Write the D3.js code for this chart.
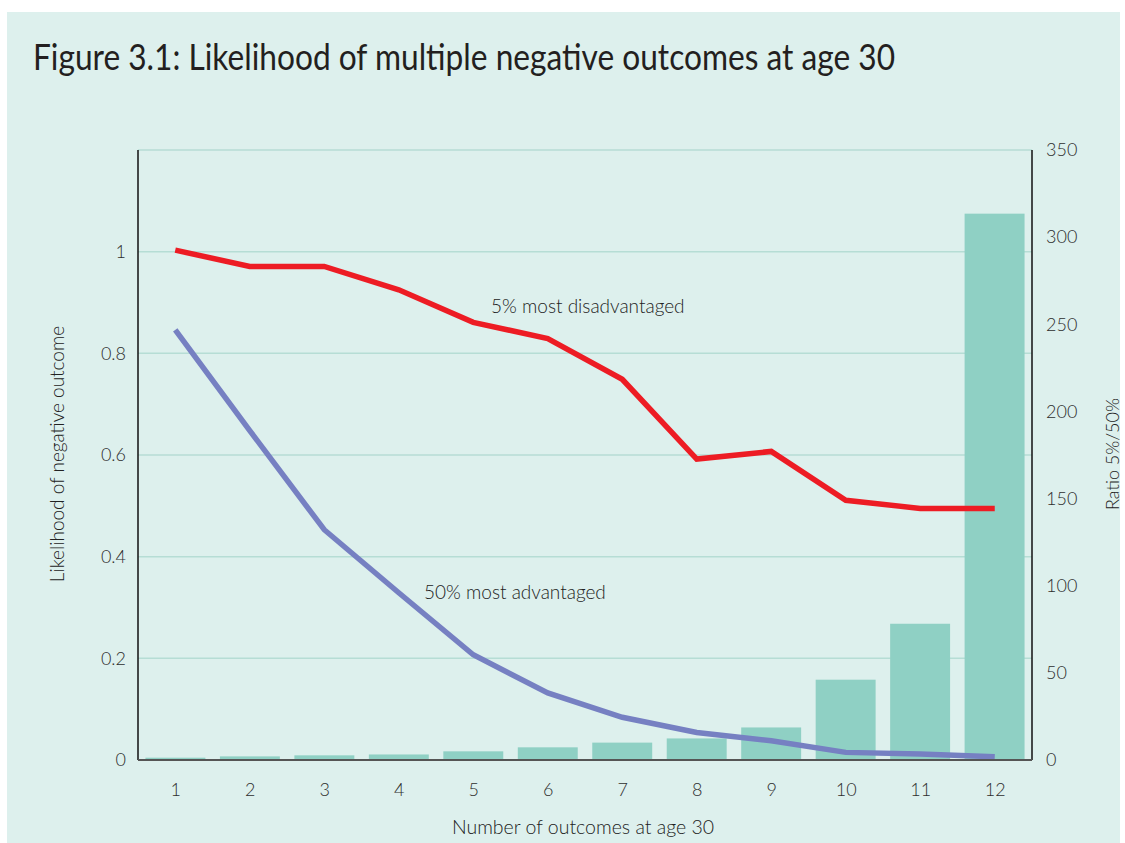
<!DOCTYPE html>
<html>
<head>
<meta charset="utf-8">
<script src="https://cdn.jsdelivr.net/npm/d3@7"></script>
<style>
  html, body { margin: 0; padding: 0; background: #ffffff; }
  svg { display: block; }
  text { font-family: Lato, "Open Sans", sans-serif; }
</style>
</head>
<body>
<svg id="chart" width="1125" height="843"></svg>
<script>
const categories = ["1","2","3","4","5","6","7","8","9","10","11","12"];
const ratioValues = [0.75, 1.5, 2.1, 2.6, 4.4, 6.7, 9.4, 11.8, 18.1, 45.5, 77.6, 312.9];
const disadvantaged = [1.003, 0.971, 0.971, 0.925, 0.861, 0.829, 0.749, 0.592, 0.607, 0.511, 0.495, 0.495];
const advantaged = [0.846, 0.648, 0.453, 0.329, 0.207, 0.132, 0.084, 0.054, 0.038, 0.015, 0.012, 0.0065];
const leftTicks = [0, 0.2, 0.4, 0.6, 0.8, 1];
const leftTickLabels = ["0", "0.2", "0.4", "0.6", "0.8", "1"];
const gridValues = [0.2, 0.4, 0.6, 0.8, 1, 1.2];
const rightTicks = [0, 50, 100, 150, 200, 250, 300, 350];

const svg = d3.select("#chart");

const L = 138, R = 1032, T = 150, B = 760;

svg.append("rect").attr("x", 7).attr("y", 12).attr("width", 1113).attr("height", 835)
  .attr("fill", "#ddf0ed");

svg.append("text")
  .attr("x", 33).attr("y", 70)
  .attr("font-size", 36).attr("fill", "#231f20")
  .attr("textLength", 862).attr("lengthAdjust", "spacingAndGlyphs")
  .text("Figure 3.1: Likelihood of multiple negative outcomes at age 30");

const x = d3.scaleBand().domain(categories).range([L, R]).paddingInner(0.195).paddingOuter(0.1);
const xPt = d3.scalePoint().domain(categories).range([L, R]).padding(0.5);
const yL = d3.scaleLinear().domain([0, 1.2]).range([B, T]);
const yR = d3.scaleLinear().domain([0, 350]).range([B, T]);

// gridlines
svg.append("g").selectAll("line").data(gridValues).join("line")
  .attr("x1", L).attr("x2", R)
  .attr("y1", d => yL(d)).attr("y2", d => yL(d))
  .attr("stroke", "#b6ddd5").attr("stroke-width", 1.5);

// bars
svg.append("g").selectAll("rect").data(ratioValues).join("rect")
  .attr("x", (d, i) => x(categories[i]))
  .attr("width", x.bandwidth())
  .attr("y", d => yR(d) - 1)
  .attr("height", d => B - yR(d) + 1)
  .attr("fill", "#8fd0c4");

// lines
const line = d3.line().x((d, i) => xPt(categories[i])).y(d => yL(d));
svg.append("path").datum(disadvantaged).attr("d", line)
  .attr("fill", "none").attr("stroke", "#ed1c24").attr("stroke-width", 5.5);
svg.append("path").datum(advantaged).attr("d", line)
  .attr("fill", "none").attr("stroke", "#7680c2").attr("stroke-width", 5.5);

// axes
const tickStyle = g => g.selectAll("text").attr("font-size", 18).attr("fill", "#2e2e2e")
  .attr("font-weight", 300).attr("font-family", "Lato, sans-serif");

const axL = d3.axisLeft(yL).tickValues(leftTicks).tickFormat((d, i) => leftTickLabels[i]).tickSize(0).tickPadding(12);
const gL = svg.append("g").attr("transform", `translate(${L},0)`).call(axL);
gL.select(".domain").remove();
tickStyle(gL);

const axR = d3.axisRight(yR).tickValues(rightTicks).tickSize(0).tickPadding(14);
const gR = svg.append("g").attr("transform", `translate(${R},0)`).call(axR);
gR.select(".domain").remove();
tickStyle(gR);

const axB = d3.axisBottom(xPt).tickSize(0).tickPadding(23);
const gB = svg.append("g").attr("transform", `translate(0,${B})`).call(axB);
gB.select(".domain").remove();
tickStyle(gB);

svg.append("line").attr("x1", L).attr("x2", L).attr("y1", T).attr("y2", B)
  .attr("stroke", "#111").attr("stroke-width", 1.5);
svg.append("line").attr("x1", R).attr("x2", R).attr("y1", T).attr("y2", B)
  .attr("stroke", "#111").attr("stroke-width", 1.5);
svg.append("line").attr("x1", L).attr("x2", R).attr("y1", B).attr("y2", B)
  .attr("stroke", "#555").attr("stroke-width", 2);

// axis titles
svg.append("text").attr("transform", "translate(64,454) rotate(-90)")
  .attr("text-anchor", "middle").attr("font-size", 19).attr("font-weight", 300).attr("fill", "#222")
  .text("Likelihood of negative outcome");
svg.append("text").attr("transform", "translate(1119,454) rotate(-90)")
  .attr("text-anchor", "middle").attr("font-size", 18).attr("font-weight", 300).attr("fill", "#222")
  .text("Ratio 5%/50%");
svg.append("text").attr("x", 583).attr("y", 834)
  .attr("text-anchor", "middle").attr("font-size", 19.5).attr("font-weight", 300).attr("fill", "#222")
  .text("Number of outcomes at age 30");

// annotations
svg.append("text").attr("x", 491).attr("y", 313)
  .attr("font-size", 19).attr("font-weight", 300).attr("fill", "#222")
  .text("5% most disadvantaged");
svg.append("text").attr("x", 424).attr("y", 599)
  .attr("font-size", 19).attr("font-weight", 300).attr("fill", "#222")
  .text("50% most advantaged");
</script>
</body>
</html>
